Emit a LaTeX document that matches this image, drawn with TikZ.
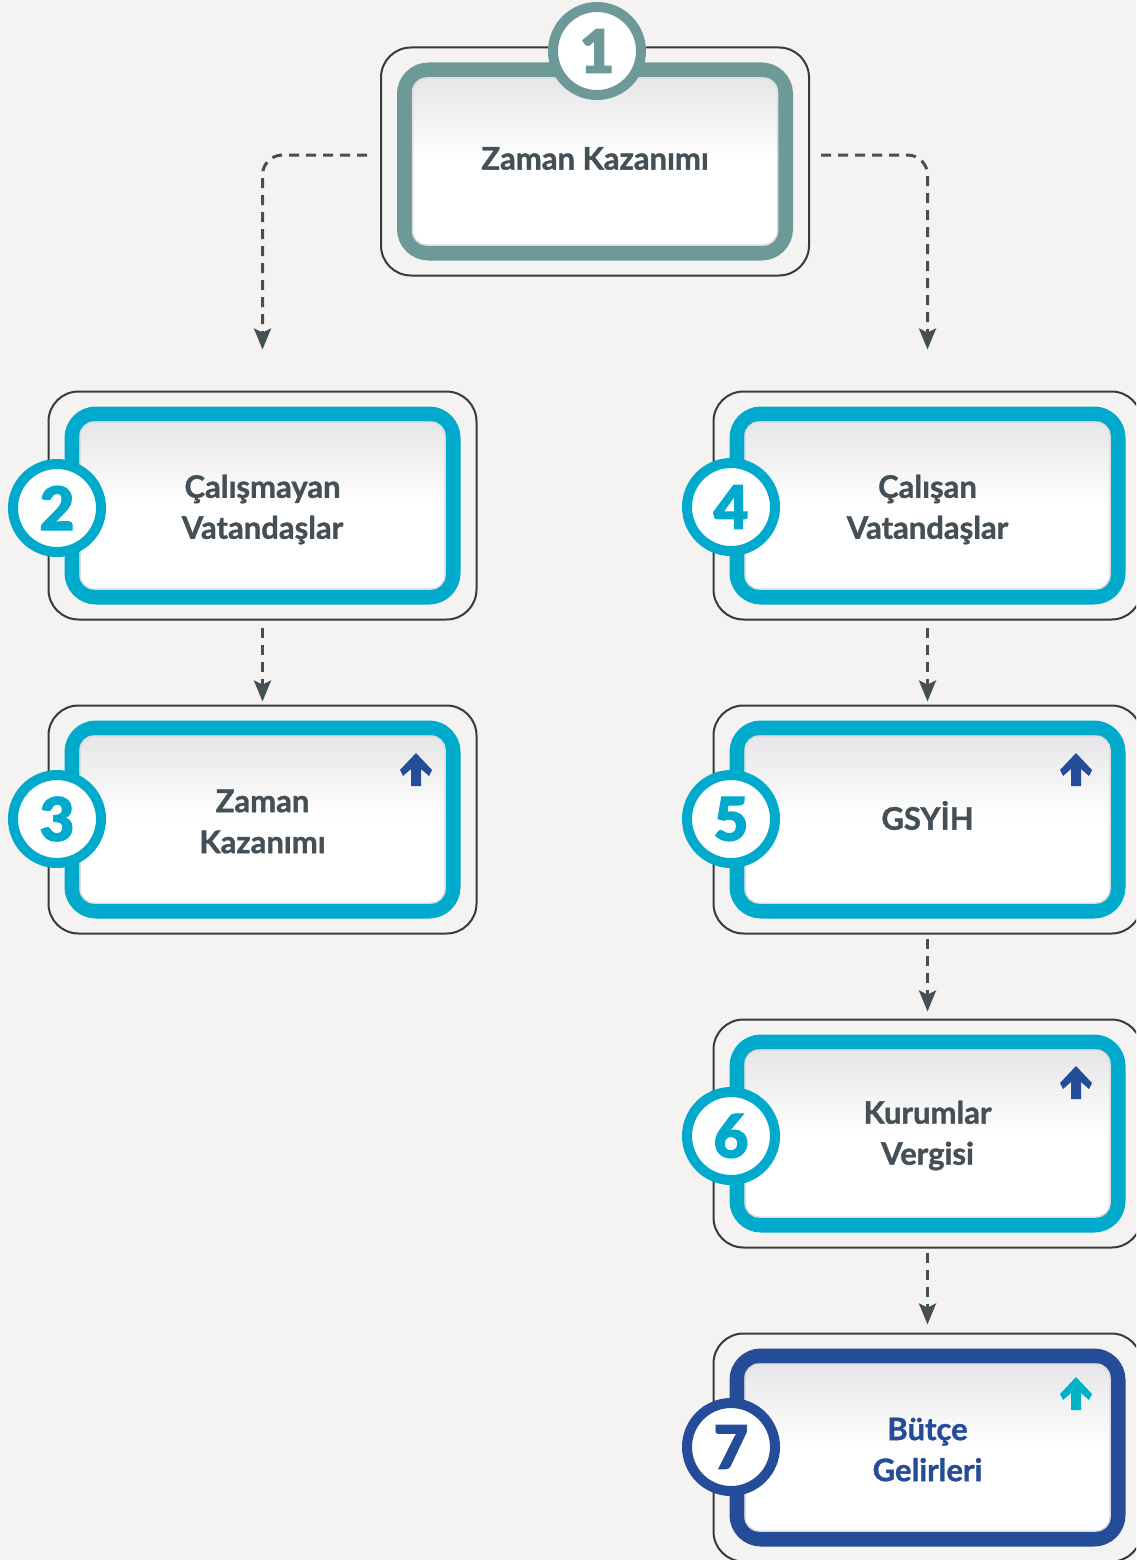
\documentclass[tikz,border=0pt]{standalone}
\usepackage{fontspec}
\setmainfont{Lato}
\newfontfamily\captionfont{Lato Bold}[FakeBold=1.2]
\newfontfamily\digitfont{Lato Black}[FakeBold=1.5]
\usetikzlibrary{arrows.meta}

\definecolor{paper}{HTML}{F4F3F1}
\definecolor{framegray}{HTML}{3A3A3A}
\definecolor{ringsage}{HTML}{6E9999}
\definecolor{ringteal}{HTML}{00AACC}
\definecolor{ringnavy}{HTML}{244C99}
\definecolor{inkgray}{HTML}{454F56}
\definecolor{cardtop}{HTML}{E6E6E8}
\definecolor{cardedge}{HTML}{DDDDDD}
\definecolor{icontint}{HTML}{00B2C7}

\tikzset{
  frame/.style={draw=framegray, line width=2pt, rounded corners=30pt,
    minimum width=428pt, minimum height=228pt, inner sep=0pt},
  band/.style={line width=15pt, rounded corners=24pt,
    minimum width=381pt, minimum height=183pt, inner sep=0pt},
  card/.style={draw=cardedge, line width=1.5pt, rounded corners=14pt,
    top color=cardtop, bottom color=white, middle color=white,
    minimum width=365pt, minimum height=167pt, inner sep=0pt},
  caption/.style={align=center, text=inkgray,
    font=\captionfont\fontsize{31}{41}\selectfont},
  badge/.style={circle, line width=10pt, fill=white, minimum size=88pt,
    inner sep=0pt, font=\digitfont\fontsize{60}{60}\selectfont},
  flow/.style={draw=inkgray, line width=3pt, dash pattern=on 10pt off 7pt,
    -{Stealth[length=21pt, width=17pt, inset=4pt]}},
}

\begin{document}
\begin{tikzpicture}[x=1pt, y=-1pt]
  % Canvas
  \fill[paper] (0,0) rectangle (1136,1560);
  \useasboundingbox (0,0) rectangle (1136,1560);
  \clip (0,0) rectangle (1136,1560);

  % Draw the frames, rings and cards
  \foreach \n/\x/\y/\ring in {1/595/161.5/ringsage, 2/262.5/505.5/ringteal,
      3/262.5/819.5/ringteal, 4/927.5/505.5/ringteal, 5/927.5/819.5/ringteal,
      6/927.5/1133.5/ringteal, 7/927.5/1447.5/ringnavy} {
    \node[frame] (f\n) at (\x,\y) {};
    \node[band, draw=\ring] (b\n) at (\x,\y) {};
    \node[card] (c\n) at (\x,\y) {};
  }

  % Texts
  \node[caption] (t1) at ([yshift=3pt]c1) {Zaman Kazanımı};
  \node[caption] (t2) at ([yshift=-4pt]c2) {Çalışmayan\\Vatandaşlar};
  \node[caption] (t3) at ([yshift=-2pt]c3) {Zaman\\Kazanımı};
  \node[caption] (t4) at ([yshift=-4pt]c4) {Çalışan\\Vatandaşlar};
  \node[caption] (t5) at ([yshift=4pt]c5) {GSYİH};
  \node[caption] (t6) at ([yshift=-2pt]c6) {Kurumlar\\Vergisi};
  \node[caption, text=ringnavy] (t7) at ([yshift=-2pt]c7) {Bütçe\\Gelirleri};

  % Number badges
  \node[badge, draw=ringsage, text=ringsage] (n1) at (597,51) {1};
  \node[badge, draw=ringteal, text=ringteal] (n2) at (57,508) {2};
  \node[badge, draw=ringteal, text=ringteal] (n3) at (57,819) {3};
  \node[badge, draw=ringteal, text=ringteal] (n4) at (731,507) {4};
  \node[badge, draw=ringteal, text=ringteal] (n5) at (731,819) {5};
  \node[badge, draw=ringteal, text=ringteal] (n6) at (731,1136) {6};
  \node[badge, draw=ringnavy, text=ringnavy] (n7) at (731,1447) {7};

  % Up arrows
  \foreach \x/\y/\c in {416/770/ringnavy, 1076/770/ringnavy,
      1076/1083/ringnavy, 1076/1394/icontint}
    \fill[\c, shift={(\x,\y)}] (0,-17) -- (16,0) -- (13,6) -- (5,-1) -- (5,16)
      -- (-5,16) -- (-5,-1) -- (-13,6) -- (-16,0) -- cycle;

  % Connectors
  \draw[flow, rounded corners=20pt] ([xshift=-13pt,yshift=6.5pt]f1.west)
    -| ([yshift=41pt]f2.north);
  \draw[flow, rounded corners=20pt] ([xshift=11pt,yshift=6.5pt]f1.east)
    -| ([yshift=41pt]f4.north);
  \draw[flow] ([yshift=-7pt]f2.south) -- ([yshift=3pt]f3.north);
  \draw[flow] ([yshift=-7pt]f4.south) -- ([yshift=3pt]f5.north);
  \draw[flow] ([yshift=-4pt]f5.south) -- ([yshift=7pt]f6.north);
  \draw[flow] ([yshift=-4pt]f6.south) -- ([yshift=8pt]f7.north);
\end{tikzpicture}
\end{document}
